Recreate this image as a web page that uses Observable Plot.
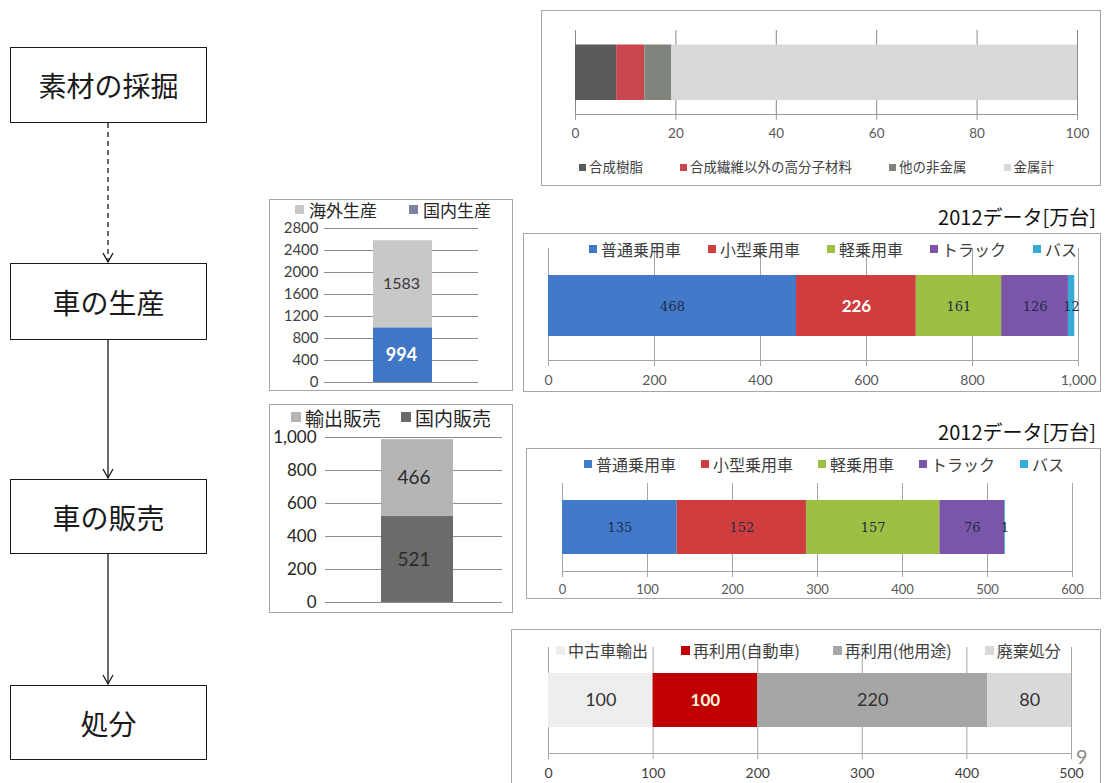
<!DOCTYPE html>
<html>
<head>
<meta charset="utf-8">
<script src="https://cdn.jsdelivr.net/npm/d3@7"></script>
<script src="https://cdn.jsdelivr.net/npm/@observablehq/plot@0.6"></script>
<style>
  body { margin: 0; background: #fff; }
  #page { position: relative; width: 1106px; height: 783px; overflow: hidden; background: #fff;
          font-family: "Noto Sans CJK JP", "Noto Sans", sans-serif; }
  .box { position: absolute; box-sizing: border-box; border: 1.5px solid #1a1a1a; background: #fff;
         display: flex; align-items: center; justify-content: center; font-size: 28px; color: #1a1a1a; }
  .panel { position: absolute; box-sizing: border-box; border: 1px solid #a6a6a6; background: #fff; }
  .legend { position: absolute; display: flex; align-items: center; white-space: nowrap; line-height: 1; }
  .title { position: absolute; font-size: 20px; color: #111; white-space: nowrap; line-height: 1; }
</style>
</head>
<body>
<div id="page">
  <svg id="flow" width="230" height="783" style="position:absolute;left:0;top:0" fill="none" stroke="#1a1a1a" stroke-width="1.3">
    <line x1="108" y1="123" x2="108" y2="262" stroke-dasharray="5,4"/>
    <polyline points="103,253 108,262 113,253"/>
    <line x1="108" y1="340" x2="108" y2="478"/>
    <polyline points="103,469 108,478 113,469"/>
    <line x1="108" y1="554" x2="108" y2="684"/>
    <polyline points="103,675 108,684 113,675"/>
  </svg>
</div>
<script>
// ---- data ----
const stages = ["素材の採掘", "車の生産", "車の販売", "処分"];

const materialNames = ["合成樹脂", "合成繊維以外の高分子材料", "他の非金属", "金属計"];
const materialShares = [8.2, 5.6, 5.4, 80.8];

const productionNames = ["国内生産", "海外生産"];
const productionValues = [994, 1583];

const salesNames = ["国内販売", "輸出販売"];
const salesValues = [521, 466];

const vehicleTypes = ["普通乗用車", "小型乗用車", "軽乗用車", "トラック", "バス"];
const productionByType = [468, 226, 161, 126, 12];
const salesByType = [135, 152, 157, 76, 1];

const disposalNames = ["中古車輸出", "再利用(自動車)", "再利用(他用途)", "廃棄処分"];
const disposalValues = [100, 100, 220, 80];

const dataTitle = "2012データ[万台]";
const pageNumber = "9";

// ---- styles ----
const materialColors = ["#585b58", "#c9464e", "#7f847c", "#d9d9d9"];
const productionColors = ["#3f77c6", "#c8c8c8"];
const salesColors = ["#6b6b6b", "#b5b5b5"];
const vehicleColors = ["#4379c9", "#cf3d3e", "#9ec042", "#7b56a8", "#38aad6"];
const disposalColors = ["#eeeeee", "#c00000", "#a6a6a6", "#d9d9d9"];
const numFont = "Lato, 'Liberation Sans', sans-serif";

const page = document.getElementById("page");

function place(node, left, top) {
  node.style.position = "absolute";
  node.style.left = left + "px";
  node.style.top = top + "px";
  page.appendChild(node);
  return node;
}

function panel(left, top, width, height) {
  const d = document.createElement("div");
  d.className = "panel";
  d.style.width = width + "px";
  d.style.height = height + "px";
  place(d, left, top);
}

function legend(names, colors, {left, cy, fontSize, gap, sw, swGap = 4, color = "#404040"}) {
  const div = document.createElement("div");
  div.className = "legend";
  div.style.fontSize = fontSize + "px";
  div.style.gap = gap + "px";
  div.style.color = color;
  names.forEach((name, i) => {
    const item = document.createElement("span");
    item.style.display = "inline-flex";
    item.style.alignItems = "center";
    const s = document.createElement("span");
    s.style.display = "inline-block";
    s.style.width = sw + "px";
    s.style.height = sw + "px";
    s.style.background = colors[i];
    s.style.marginRight = swGap + "px";
    item.appendChild(s);
    item.appendChild(document.createTextNode(name));
    div.appendChild(item);
  });
  place(div, left, cy - fontSize / 2);
}

function title(text, right, cy, size = 20) {
  const d = document.createElement("div");
  d.className = "title";
  d.textContent = text;
  d.style.fontSize = size + "px";
  d.style.right = (1106 - right) + "px";
  d.style.top = (cy - size / 2) + "px";
  page.appendChild(d);
}

// horizontal single stacked bar
function hbar(o) {
  const rows = o.names.map((name, i) => ({name, value: o.values[i]}));
  const marks = [
    Plot.ruleX(o.ticks, {stroke: o.grid}),
    Plot.barX(rows, Plot.stackX({x: "value", fill: "name", insetTop: o.insetTop, insetBottom: o.insetBottom})),
    Plot.frame({anchor: "bottom", stroke: o.axis}),
    Plot.axisX(o.ticks, {tickSize: 6, tickPadding: o.pad, tickFormat: o.fmt, stroke: o.axis, label: null,
                         fill: o.tickColor, fontSize: o.tickFont, fontFamily: numFont})
  ];
  for (const g of (o.labels || [])) {
    marks.push(Plot.text(rows, Plot.stackX({
      x: "value",
      text: (d, i) => g.idx.includes(i) ? String(d.value) : null,
      fill: g.fill, fontSize: g.size, fontWeight: g.weight || "normal",
      fontFamily: g.font || numFont, dy: g.dy || 0
    })));
  }
  const svg = Plot.plot({
    width: o.width, height: o.height,
    marginTop: o.mt, marginBottom: o.mb, marginLeft: o.ml, marginRight: o.mr,
    x: {domain: o.domain, label: null},
    color: {domain: o.names, range: o.colors},
    style: {background: "transparent", overflow: "visible"},
    marks
  });
  place(svg, o.left, o.top);
}

// vertical single stacked column
function vbar(o) {
  const rows = o.names.map((name, i) => ({name, value: o.values[i]}));
  const marks = [
    Plot.ruleY(o.ticks, {stroke: o.grid}),
    Plot.barY(rows, Plot.stackY({y: "value", fill: "name", insetLeft: o.insetLeft, insetRight: o.insetRight})),
    Plot.axisY(o.ticks, {tickSize: 0, tickPadding: o.pad, tickFormat: o.fmt, label: null,
                         fill: o.tickColor, fontSize: o.tickFont, fontFamily: numFont})
  ];
  for (const g of (o.labels || [])) {
    marks.push(Plot.text(rows, Plot.stackY({
      y: "value",
      text: (d, i) => g.idx.includes(i) ? String(d.value) : null,
      fill: g.fill, fontSize: g.size, fontWeight: g.weight || "normal",
      fontFamily: g.font || numFont, dy: g.dy || 0
    })));
  }
  const svg = Plot.plot({
    width: o.width, height: o.height,
    marginTop: o.mt, marginBottom: o.mb, marginLeft: o.ml, marginRight: o.mr,
    y: {domain: o.domain, label: null},
    color: {domain: o.names, range: o.colors},
    style: {background: "transparent", overflow: "visible"},
    marks
  });
  place(svg, o.left, o.top);
}

// ---- flow of stages ----
const boxTops = [47, 263, 479, 685];
const boxHeights = [76, 77, 75, 75];
stages.forEach((s, i) => {
  const d = document.createElement("div");
  d.className = "box";
  d.textContent = s;
  d.style.width = "197px";
  d.style.height = boxHeights[i] + "px";
  place(d, 10, boxTops[i]);
});

// ---- material composition (%) ----
panel(541, 10, 560, 176);
hbar({
  names: materialNames, values: materialShares, colors: materialColors,
  domain: [0, 100], ticks: [0, 20, 40, 60, 80, 100], fmt: d3.format("d"),
  left: 543, top: 22, width: 558, height: 130, mt: 8, mb: 38, ml: 32, mr: 24,
  insetTop: 14.5, insetBottom: 14, grid: "#8a8a8a", axis: "#9a9a9a",
  tickColor: "#595959", tickFont: 13.5, pad: 8
});
legend(materialNames, materialColors, {left: 579, cy: 167, fontSize: 13.5, gap: 37, sw: 7, swGap: 3});

// ---- production: domestic / overseas ----
panel(269, 199, 244, 192);
vbar({
  names: productionNames, values: productionValues, colors: productionColors,
  domain: [0, 2800], ticks: d3.range(0, 2801, 400), fmt: d3.format("d"),
  left: 269, top: 215, width: 244, height: 176, mt: 13, mb: 9, ml: 55, mr: 35,
  insetLeft: 49, insetRight: 46, grid: "#8c8c8c", tickColor: "#404040", tickFont: 15, pad: 6,
  labels: [
    {idx: [0], fill: "#ffffff", size: 18, weight: "bold"},
    {idx: [1], fill: "#3a3a3a", size: 16}
  ]
});
legend(["海外生産", "国内生産"], ["#c8c8c8", "#7c82a0"], {left: 295, cy: 209, fontSize: 17, gap: 32, sw: 9, swGap: 5, color: "#262626"});

// ---- sales: domestic / export ----
panel(269, 404, 244, 209);
vbar({
  names: salesNames, values: salesValues, colors: salesColors,
  domain: [0, 1000], ticks: d3.range(0, 1001, 200), fmt: d3.format(","),
  left: 269, top: 425, width: 244, height: 188, mt: 12, mb: 11, ml: 56, mr: 11,
  insetLeft: 56, insetRight: 49, grid: "#8c8c8c", tickColor: "#262626", tickFont: 17, pad: 9,
  labels: [
    {idx: [0], fill: "#2b2b2b", size: 19},
    {idx: [1], fill: "#2b2b2b", size: 19}
  ]
});
legend(["輸出販売", "国内販売"], ["#b5b5b5", "#6b6b6b"], {left: 291, cy: 417, fontSize: 19, gap: 20, sw: 10, swGap: 4, color: "#262626"});

// ---- production by vehicle type ----
title(dataTitle, 1096, 217);
panel(523, 233, 578, 159);
hbar({
  names: vehicleTypes, values: productionByType, colors: vehicleColors,
  domain: [0, 1000], ticks: d3.range(0, 1001, 200), fmt: d3.format(","),
  left: 523, top: 240, width: 578, height: 152, mt: 8, mb: 32, ml: 25, mr: 23,
  insetTop: 27, insetBottom: 24, grid: "#a6a6a6", axis: "#a6a6a6",
  tickColor: "#595959", tickFont: 14, pad: 9,
  labels: [
    {idx: [0, 2, 3, 4], fill: "#1f2b4a", size: 13, dy: 2, font: "'DejaVu Serif', serif"},
    {idx: [1], fill: "#ffffff", size: 17, weight: "bold", dy: 2}
  ]
});
legend(vehicleTypes, vehicleColors, {left: 589, cy: 249, fontSize: 16, gap: 27, sw: 8, swGap: 4});

// ---- sales by vehicle type ----
title(dataTitle, 1096, 432);
panel(526, 448, 575, 151);
hbar({
  names: vehicleTypes, values: salesByType, colors: vehicleColors,
  domain: [0, 600], ticks: d3.range(0, 601, 100), fmt: d3.format("d"),
  left: 526, top: 475, width: 575, height: 124, mt: 8, mb: 28, ml: 36, mr: 29,
  insetTop: 17, insetBottom: 17, grid: "#a6a6a6", axis: "#a6a6a6",
  tickColor: "#595959", tickFont: 13, pad: 7,
  labels: [
    {idx: [0, 1, 2, 3, 4], fill: "#1f2b4a", size: 13, font: "'DejaVu Serif', serif"}
  ]
});
legend(vehicleTypes, vehicleColors, {left: 584, cy: 464, fontSize: 16, gap: 25, sw: 8, swGap: 4});

// ---- end of life ----
panel(511, 629, 590, 170);
hbar({
  names: disposalNames, values: disposalValues, colors: disposalColors,
  domain: [0, 500], ticks: d3.range(0, 501, 100), fmt: d3.format("d"),
  left: 511, top: 640, width: 590, height: 143, mt: 7, mb: 30, ml: 37, mr: 30,
  insetTop: 26, insetBottom: 26, grid: "#a6a6a6", axis: "#a6a6a6",
  tickColor: "#404040", tickFont: 14, pad: 9,
  labels: [
    {idx: [0, 2, 3], fill: "#333333", size: 18},
    {idx: [1], fill: "#fff6dc", size: 17, weight: "bold"}
  ]
});
legend(disposalNames, disposalColors, {left: 556, cy: 650, fontSize: 16, gap: 33, sw: 9, swGap: 3});

// page number
const pn = document.createElement("div");
pn.textContent = pageNumber;
pn.style.cssText = "font-size:20px;color:#8c8c8c;line-height:1;font-family:" + numFont;
place(pn, 1076, 746);
</script>
</body>
</html>
